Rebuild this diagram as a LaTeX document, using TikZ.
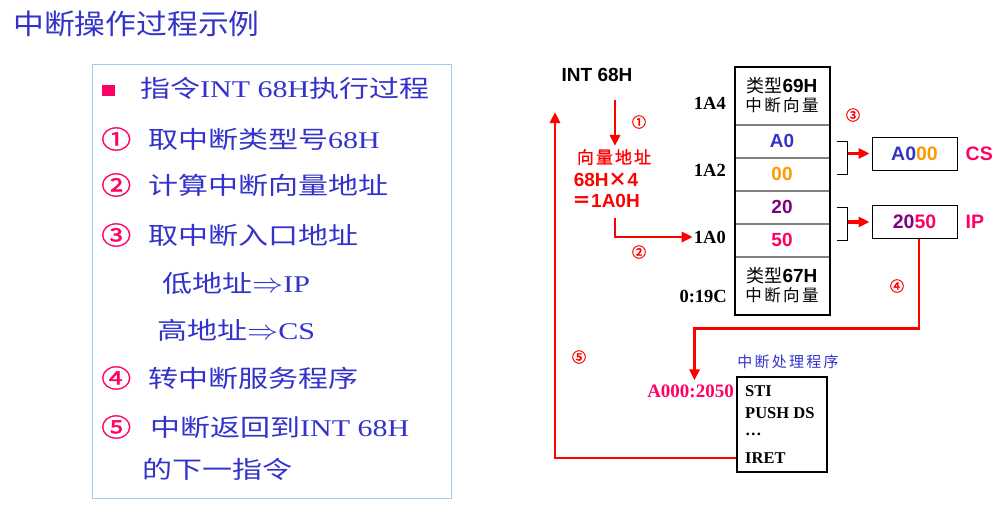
\documentclass[tikz,border=0pt]{standalone}
\usepackage{fontspec}
\setmainfont{Liberation Serif}
\setsansfont{Liberation Sans}
\newfontfamily\cjk{Noto Sans CJK SC}
\newfontfamily\cjkheavy{Noto Sans CJK SC}[FakeBold=2.5]
\newfontfamily\cjksp{Noto Sans CJK SC}[LetterSpace=15]
\newfontfamily\cjkspbold{Noto Sans CJK SC}[LetterSpace=12,FakeBold=1.2]
\newfontfamily\cjkwide{Noto Sans CJK SC}[FakeStretch=1.25]
\newfontfamily\cjkwidebold{Noto Sans CJK SC}[FakeStretch=1.2,FakeBold=1.5]
\newfontfamily\cjktitle{Noto Sans CJK SC}[FakeStretch=1.1]
\newfontfamily\serifwide{Liberation Serif}[FakeStretch=1.25]
\usetikzlibrary{calc,positioning,arrows.meta}

\definecolor{txtblue}{RGB}{51,51,204}
\definecolor{numpink}{RGB}{255,0,102}
\definecolor{lineblue}{RGB}{153,204,255}
\definecolor{digorange}{RGB}{255,153,0}
\definecolor{digpurple}{RGB}{128,0,128}
\newcommand{\zh}[1]{{\cjkwide #1}}
\newcommand{\implto}{\scalebox{1.25}[1.1]{$\Rightarrow$}}

\begin{document}
\begin{tikzpicture}[
    x=1pt, y=-1pt,
    item/.style={anchor=west, inner sep=0, text=txtblue, font=\serifwide\fontsize{24}{26}\selectfont},
    circnum/.style={anchor=west, inner sep=0, text=numpink, font=\cjkwidebold\fontsize{25}{26}\selectfont},
    stepno/.style={inner sep=0, text=red, font=\cjkheavy\fontsize{14}{14}\selectfont},
    addr/.style={anchor=east, inner sep=1pt, font=\bfseries\fontsize{18.5}{20}\selectfont},
    cell/.style={draw=gray, line width=1pt, minimum width=94, minimum height=32, inner sep=0,
        font=\sffamily\bfseries\fontsize{19}{21}\selectfont},
    regbox/.style={draw, line width=1pt, minimum width=85, minimum height=33, inner sep=0,
        font=\sffamily\bfseries\fontsize{19.5}{21}\selectfont},
    reglabel/.style={right=8pt of #1, inner sep=0, text=numpink, font=\sffamily\bfseries\fontsize{19.5}{21}\selectfont},
    prgline/.style={anchor=west, inner sep=0, font=\bfseries\fontsize{16.5}{18}\selectfont},
    flow/.style={draw=red, line width=2.8pt, -{Triangle[length=11pt,width=10pt]}},
    bracket/.style={draw=black, line width=0.8pt}
]
    \useasboundingbox (0,0) rectangle (1007,517);

    % Title
    \node[anchor=west, inner sep=0, text=txtblue, font=\cjktitle\fontsize{28}{30}\selectfont] (title) at (13,24) {中断操作过程示例};

    % Left panel with the steps
    \draw[lineblue, line width=1pt] (92,64) rectangle (451,498);
    \node[fill=numpink, minimum width=13, minimum height=11, inner sep=0] (sq) at (108.5,90.5) {};
    \node[item] (t1) at (140,88) {\zh{指令}INT 68H\zh{执行过程}};
    \node[circnum] (n1) at (101,139) {①};
    \node[item] (t2) at (148,139) {\zh{取中断类型号}68H};
    \node[circnum] (n2) at (101,185) {②};
    \node[item] (t3) at (148,185) {\zh{计算中断向量地址}};
    \node[circnum] (n3) at (101,235) {③};
    \node[item] (t4) at (148,235) {\zh{取中断入口地址}};
    \node[item] (t5) at (162,283) {\zh{低地址}\implto IP};
    \node[item] (t6) at (157,330) {\zh{高地址}\implto CS};
    \node[circnum] (n4) at (101,378) {④};
    \node[item] (t7) at (148,378) {\zh{转中断服务程序}};
    \node[circnum] (n5) at (101,427) {⑤};
    \node[item] (t8) at (150,427) {\zh{中断返回到}INT 68H};
    \node[item] (t9) at (142,469) {\zh{的下一指令}};

    % Vector address calculation
    \node[inner sep=1pt, font=\sffamily\bfseries\fontsize{19}{21}\selectfont] (int) at (597,75) {INT 68H};
    \node[inner sep=1pt, text=red, font=\cjkspbold\fontsize{17}{18}\selectfont] (vec) at (614,157) {向量地址};
    \node[inner sep=1pt, text=red, font=\sffamily\bfseries\fontsize{19}{21}\selectfont] (mul) at (606,180) {68H{\cjk ×}4};
    \node[inner sep=1pt, text=red, font=\sffamily\bfseries\fontsize{19}{21}\selectfont] (res) at (606,201) {{\cjk ＝}1A0H};
    \coordinate (a1) at (615,100);
    \coordinate (a2) at (615,218);

    % Addresses
    \node[addr] (ad4) at (727,103) {1A4};
    \node[addr] (ad2) at (727,170) {1A2};
    \node[addr] (ad0) at (727,237) {1A0};
    \node[addr] (ad9c) at (728,296) {0:19C};

    % Interrupt vector table
    \node[cell, minimum height=57, align=center] (m69) at (782,95.5)
        {{\cjk\mdseries\fontsize{18}{20}\selectfont 类型}69H\\[-2pt]{\cjksp\mdseries\fontsize{16.5}{20}\selectfont 中断向量}};
    \node[cell, below=0pt of m69, text=txtblue] (mA0) {A0};
    \node[cell, below=0pt of mA0, text=digorange] (m00) {00};
    \node[cell, below=0pt of m00, text=digpurple] (m20) {20};
    \node[cell, below=0pt of m20, text=numpink] (m50) {50};
    \node[cell, below=0pt of m50, minimum height=57, align=center] (m67)
        {{\cjk\mdseries\fontsize{18}{20}\selectfont 类型}67H\\[-2pt]{\cjksp\mdseries\fontsize{16.5}{20}\selectfont 中断向量}};
    \draw[line width=2pt] (m69.north west) rectangle (m67.south east);

    % CS and IP
    \node[regbox] (csbox) at (914.5,153.5) {\textcolor{txtblue}{A0}\textcolor{digorange}{00}};
    \node[reglabel=csbox] (cs) {CS};
    \node[regbox] (ipbox) at (914.5,222) {\textcolor{digpurple}{20}\textcolor{numpink}{50}};
    \node[reglabel=ipbox] (ip) {IP};

    % Service routine
    \node[inner sep=0, text=txtblue, font=\cjksp\fontsize{15}{17}\selectfont] (ptitle) at (788,362) {中断处理程序};
    \node[draw, line width=2pt, minimum width=90, minimum height=95, inner sep=0] (prog) at (782,424.5) {};
    \node[prgline] (p1) at (745,391) {STI};
    \node[prgline] (p2) at (745,413) {PUSH DS};
    \node[prgline] (p3) at (745,434) {\dots};
    \node[prgline] (p4) at (745,458) {IRET};
    \node[anchor=east, inner sep=1pt, text=numpink, font=\bfseries\fontsize{19}{21}\selectfont] (ent) at (735,391) {A000:2050};
    \coordinate (ret) at (555,112);

    % Step arrows
    \draw[flow, shorten >=2pt] (a1) -- (a1 |- vec.north);
    \draw[flow] (a2) |- (ad0.west);
    \draw[bracket] ([xshift=7]mA0.east) -- ++(11,0) |- ([xshift=7]m00.east);
    \draw[flow, line width=3.5pt, shorten >=2pt] ($(csbox.west)+(-24,0)$) -- (csbox.west);
    \draw[bracket] ([xshift=7]m20.east) -- ++(11,0) |- ([xshift=7]m50.east);
    \draw[flow, line width=3.5pt, shorten >=2pt] ($(ipbox.west)+(-24,0)$) -- (ipbox.west);
    \draw[flow, shorten >=3pt] ([xshift=4.5]ipbox.south) |- ($(ent.north)+(4,-55)$) -- ([xshift=4]ent.north);
    \draw[flow] (prog.west |- p4) -| (ret);

    % Step numbers
    \node[stepno] (s1) at (639,122) {①};
    \node[stepno] (s2) at (639,252) {②};
    \node[stepno] (s3) at (853,115) {③};
    \node[stepno] (s4) at (897,286) {④};
    \node[stepno] (s5) at (579,357) {⑤};
\end{tikzpicture}
\end{document}
